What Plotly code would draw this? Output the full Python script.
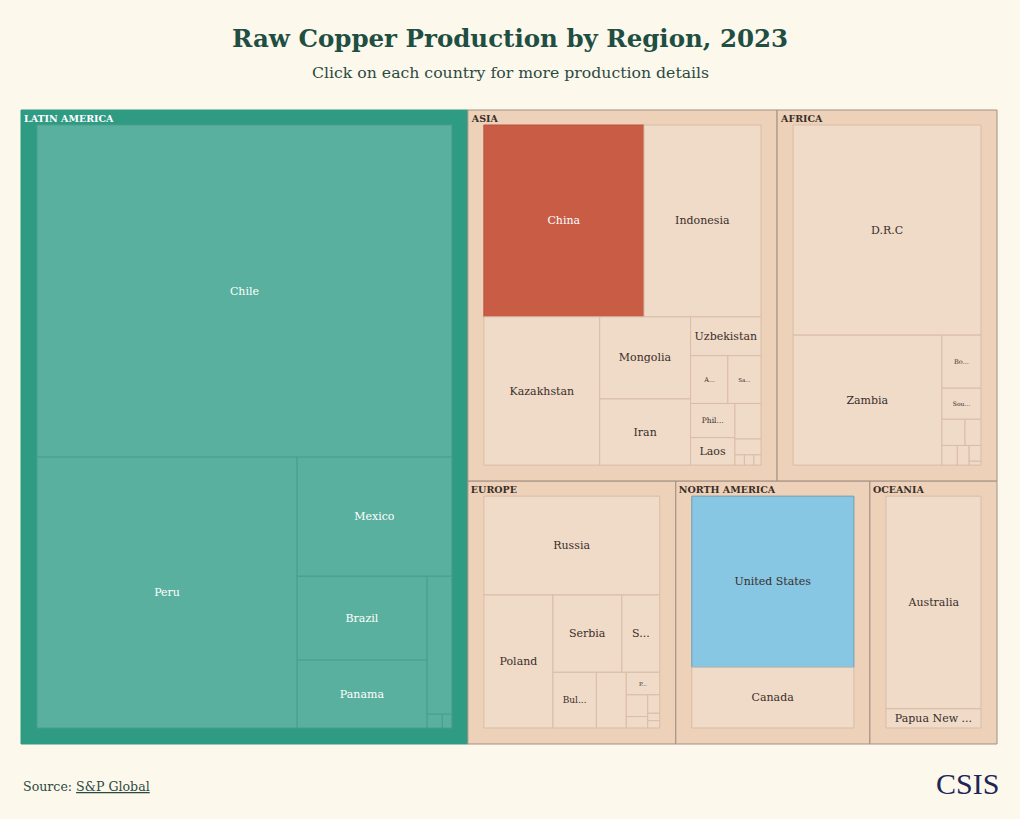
import plotly.graph_objects as go

# ---------------- data ----------------
regions = ["LATIN AMERICA", "ASIA", "AFRICA", "EUROPE", "NORTH AMERICA", "OCEANIA"]

countries = [
    "Chile", "Peru", "Mexico", "Brazil", "Panama", "Ecuador", "Dominican Republic", "Bolivia",
    "China", "Indonesia", "Kazakhstan", "Mongolia", "Iran", "Uzbekistan", "Armenia", "Saudi Arabia",
    "Philippines", "Laos", "Myanmar", "Vietnam", "India", "Pakistan", "Malaysia",
    "D.R.C", "Zambia", "Botswana", "South Africa", "Mauritania", "Namibia", "Zimbabwe", "Morocco",
    "Eritrea", "Tanzania",
    "Russia", "Poland", "Serbia", "Sweden", "Bulgaria", "Spain", "Portugal", "Finland", "Turkey",
    "Norway", "North Macedonia", "Cyprus",
    "United States", "Canada",
    "Australia", "Papua New Guinea",
]
country_region = (
    ["LATIN AMERICA"] * 8
    + ["ASIA"] * 15
    + ["AFRICA"] * 10
    + ["EUROPE"] * 12
    + ["NORTH AMERICA"] * 2
    + ["OCEANIA"] * 2
)
# production, thousand tonnes
production_kt = [
    5245, 2683, 702, 415, 336, 130, 8, 5,
    1257, 919, 703, 305, 246, 112, 73, 65, 62, 50, 38, 17, 4, 4, 3,
    1695, 831, 89, 52, 26, 18, 13, 10, 8, 2,
    783, 414, 240, 132, 109, 75, 34, 21, 11, 10, 4, 4,
    1267, 448,
    1030, 93,
]
# label shown inside each tile (truncated as in the original)
country_label = [
    "Chile", "Peru", "Mexico", "Brazil", "Panama", "", "", "",
    "China", "Indonesia", "Kazakhstan", "Mongolia", "Iran", "Uzbekistan", "A...", "Sa...",
    "Phil...", "Laos", "", "", "", "", "",
    "D.R.C", "Zambia", "Bo...", "Sou...", "", "", "", "", "", "",
    "Russia", "Poland", "Serbia", "S...", "Bul...", "", "P...", "", "", "", "", "",
    "United States", "Canada",
    "Australia", "Papua New ...",
]

# ---------------- styling ----------------
FONT = "DejaVu Serif"
BG = "#FDF8EC"
LA_REGION, LA_LEAF = "#2F9B83", "#5AB09E"
REGION, LEAF = "#EDD1B9", "#F0DAC8"
HIGHLIGHT = {"China": "#C95C45", "United States": "#87C7E4"}
small_label_size = {"A...": 6.5, "Sa...": 5.5, "Bo...": 6.5, "Sou...": 6, "P...": 5.5, "Phil...": 7.5, "Bul...": 9}
PAD = dict(t=15, l=16, r=16, b=16)
DOMAIN = dict(x=[5 / 1020, 1013 / 1020], y=[59 / 819, 724 / 819])

ids = regions + [f"{r}/{c}" for r, c in zip(country_region, countries)]
# region headers are written by the second trace, so the tile trace keeps them blank
labels = ["\u200b"] * len(regions) + countries
parents = [""] * len(regions) + country_region
region_totals = [sum(v for v, r in zip(production_kt, country_region) if r == reg) for reg in regions]
values = region_totals + production_kt
texts = [" "] * len(regions) + country_label
hover_names = regions + countries

colors, line_colors, font_colors, font_sizes = [], [], [], []
for r in regions:
    la = r == "LATIN AMERICA"
    colors.append(LA_REGION if la else REGION)
    line_colors.append(LA_REGION if la else "#A38F84")
    font_colors.append("rgba(0,0,0,0)")
    font_sizes.append(10)
for c, r, t in zip(countries, country_region, country_label):
    la = r == "LATIN AMERICA"
    colors.append(HIGHLIGHT.get(c, LA_LEAF if la else LEAF))
    if c == "China":
        line_colors.append("#B8533E")
    elif c == "United States":
        line_colors.append("#6E9DB2")
    else:
        line_colors.append("#4A9F8B" if la else "#D9BDA8")
    font_colors.append("#FFFFFF" if (la or c == "China") else "#3A2E28")
    font_sizes.append(small_label_size.get(t, 11))

fig = go.Figure()
fig.add_trace(
    go.Treemap(
        ids=ids,
        labels=labels,
        parents=parents,
        values=values,
        branchvalues="total",
        text=texts,
        customdata=hover_names,
        texttemplate="%{text}",
        textposition="middle center",
        hovertemplate="%{customdata}<br>%{value:,} kt<extra></extra>",
        marker=dict(colors=colors, line=dict(color=line_colors, width=1), pad=PAD),
        textfont=dict(family=FONT, color=font_colors, size=font_sizes),
        tiling=dict(pad=0),
        pathbar=dict(visible=False),
        domain=DOMAIN,
    )
)
# region headers: same top-level layout, labels anchored top-left
fig.add_trace(
    go.Treemap(
        ids=regions,
        labels=regions,
        parents=[""] * len(regions),
        values=region_totals,
        branchvalues="total",
        texttemplate="<b>%{label}</b>",
        textposition="top left",
        hoverinfo="skip",
        marker=dict(colors=["rgba(0,0,0,0)"] * len(regions), line=dict(width=0), pad=PAD),
        textfont=dict(family=FONT, size=9.5,
                      color=["#FFFFFF" if r == "LATIN AMERICA" else "#3A2E28" for r in regions]),
        tiling=dict(pad=0),
        pathbar=dict(visible=False),
        domain=DOMAIN,
    )
)

fig.update_layout(
    width=1020,
    height=819,
    margin=dict(l=0, r=0, t=0, b=0),
    paper_bgcolor=BG,
    plot_bgcolor=BG,
    font=dict(family=FONT),
    annotations=[
        dict(text="<b>Raw Copper Production by Region, 2023</b>", x=0.5, y=1 - 38 / 819,
             xref="paper", yref="paper", showarrow=False, xanchor="center", yanchor="middle",
             font=dict(family=FONT, size=24.5, color="#1F4E43")),
        dict(text="Click on each country for more production details", x=0.5, y=1 - 72 / 819,
             xref="paper", yref="paper", showarrow=False, xanchor="center", yanchor="middle",
             font=dict(family=FONT, size=15.7, color="#2B4A42")),
        dict(text='Source: <u>S&P Global</u>', x=21 / 1020, y=1 - 786 / 819,
             xref="paper", yref="paper", showarrow=False, xanchor="left", yanchor="middle",
             font=dict(family=FONT, size=12.6, color="#2B4A42")),
        dict(text="CSIS", x=1001 / 1020, y=1 - 783 / 819,
             xref="paper", yref="paper", showarrow=False, xanchor="right", yanchor="middle",
             font=dict(family="Liberation Serif", size=30, color="#1E2656")),
    ],
)

fig.write_html(
    "out.html",
    config={"displayModeBar": False},
    post_script="document.body.style.margin='0';document.body.style.background='" + BG + "';",
)
